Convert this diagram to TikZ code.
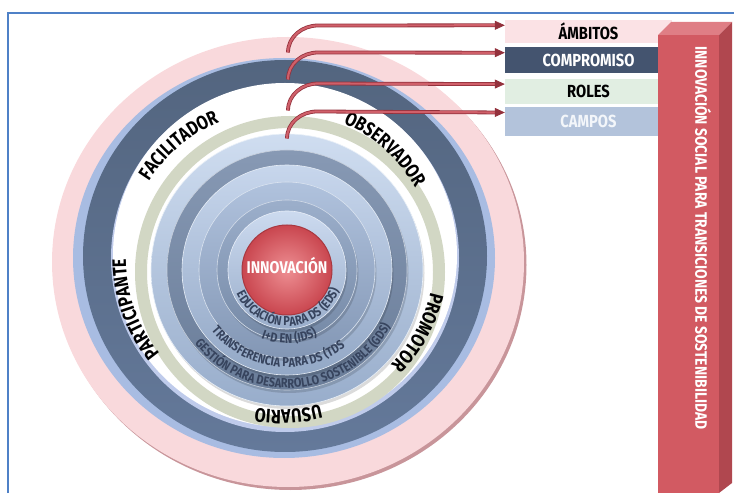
\documentclass[tikz,border=0pt]{standalone}
\usepackage{fontspec}
\setmainfont{Fira Sans}
\newfontfamily\cond{Fira Sans}[FakeStretch=0.84]
\newfontfamily\condw{Fira Sans}[FakeStretch=0.82]
\usetikzlibrary{arrows.meta,positioning,decorations.text}
\definecolor{pinkring}{HTML}{F9D9DC}
\definecolor{pinkrim}{HTML}{C8959A}
\definecolor{lightband}{HTML}{A8BCE2}
\definecolor{slate}{HTML}{64799A}
\definecolor{slatedark}{HTML}{53657F}
\definecolor{lavender}{HTML}{BFCBEB}
\definecolor{beige}{HTML}{D2D7C4}
\definecolor{ringA}{HTML}{CFDDF0}\definecolor{ringAd}{HTML}{98ADCB}
\definecolor{ringB}{HTML}{8799B4}\definecolor{ringBd}{HTML}{6A7D99}
\definecolor{ringC}{HTML}{C7D6EC}\definecolor{ringCd}{HTML}{93A8C6}
\definecolor{ringD}{HTML}{B0C2DD}\definecolor{ringDd}{HTML}{8397B5}
\definecolor{ringE}{HTML}{9CAFCB}\definecolor{ringEd}{HTML}{7589A6}
\definecolor{ringF}{HTML}{CCDAEF}\definecolor{ringFd}{HTML}{9AAECB}
\definecolor{innov}{HTML}{C9464F}
\definecolor{innovlight}{HTML}{EE8F93}
\definecolor{innovdark}{HTML}{A83840}
\definecolor{arrline}{HTML}{93313C}
\definecolor{arrfill}{HTML}{D0606A}
\definecolor{bar}{HTML}{D25A62}
\definecolor{bartop}{HTML}{DF7E85}
\definecolor{barside}{HTML}{B0474F}
\definecolor{frame}{HTML}{4F81C7}
\definecolor{txtblue}{HTML}{37445E}
\definecolor{ambfill}{HTML}{FBE2E5}
\definecolor{compfill}{HTML}{44546F}
\definecolor{rolfill}{HTML}{E1EEE2}
\definecolor{campfill}{HTML}{B3C3DB}
\definecolor{camptext}{HTML}{F3F6FA}
\newcommand\rlab{\condw\bfseries\fontsize{19.5}{19.5}\selectfont}
\newcommand\ilab{\cond\bfseries\fontsize{13}{13}\selectfont\color{txtblue}}
\tikzset{
  arr/.style={draw=arrline, line width=0.8pt, double=arrfill, double distance=2.2pt, -{Triangle[length=10pt, width=9pt]}},
  tag/.style={minimum width=167pt, inner sep=0pt, font=\cond\bfseries\fontsize{17.5}{17.5}\selectfont},
  outerlbl/.style={decorate, decoration={text along path, text align=center, text={|\rlab|#1}}},
  innerlbl/.style={decorate, decoration={text along path, text align=center, text={|\ilab|#1}}},
}
\begin{document}
\begin{tikzpicture}[x=1pt, y=1pt]
\useasboundingbox (0,0) rectangle (734,493);
\draw[frame, line width=1.5pt] (8,0) |- (734,480);
\coordinate (o) at (287,223);
\fill[pinkrim] (290.5,228) ellipse[x radius=236, y radius=225];
\fill[pinkring] (288,231) ellipse[x radius=236, y radius=225];
\fill[lightband] (284,235) ellipse[x radius=211, y radius=200];
\shade[top color=slatedark, bottom color=slate] (285,237) ellipse[x radius=202, y radius=196];
\fill[lavender] (285,235) circle[radius=174];
\fill[white] (285,238) circle[radius=172];
\fill[beige, even odd rule] (290,221) ellipse[x radius=155, y radius=156] (290,221) ellipse[x radius=143, y radius=144];
\path[outerlbl=FACILITADOR] (280,233) ++(171:154 and 150) arc[start angle=171, end angle=91, x radius=154, y radius=150];
\path[outerlbl=OBSERVADOR] (280,233) ++(87:154 and 150) arc[start angle=87, end angle=7, x radius=154, y radius=150];
\path[outerlbl=PROMOTOR] (280,233) ++(12:154 and 150) arc[start angle=12, end angle=-68, x radius=154, y radius=150];
\path[outerlbl=USUARIO] (280,233) ++(-47:154 and 150) arc[start angle=-47, end angle=-127, x radius=154, y radius=150];
\path[outerlbl=PARTICIPANTE] (280,233) ++(239:154 and 150) arc[start angle=239, end angle=159, x radius=154, y radius=150];
\foreach \r/\ca/\cb in {136/ringA/ringAd, 120/ringB/ringBd, 105/ringC/ringCd, 88/ringD/ringDd, 70/ringE/ringEd, 59/ringF/ringFd}{
  \fill[black, opacity=0.14] ([shift={(1.5,-3)}]o) circle[radius=\r];
  \shade[draw=white!55!\ca, line width=0.6pt, top color=\ca, bottom color=\cb] (o) circle[radius=\r];
}
\shade[draw=innovdark, line width=1pt, inner color=innovlight, outer color=innov] (o) circle[radius=45];
\node[font=\cond\bfseries\fontsize{17}{17}\selectfont, text=white] (innovacion) at (287,227) {INNOVACIÓN};
\path[innerlbl={EDUCACIÓN PARA DS (EDS)}] ([shift={(182:56)}]o) arc[start angle=182, end angle=362, radius=56];
\path[innerlbl={I+D EN (IDS)}] ([shift={(182:73)}]o) arc[start angle=182, end angle=362, radius=73];
\path[innerlbl={TRANSFERENCIA PARA DS (TDS}] ([shift={(173:97)}]o) arc[start angle=173, end angle=353, radius=97];
\path[innerlbl={GESTIÓN PARA DESARROLLO SOSTENIBLE (GDS)}] ([shift={(185:118)}]o) arc[start angle=185, end angle=365, radius=118];
\node[tag, fill=ambfill, minimum height=23pt] (ambitos) at (588.5,461.5) {ÁMBITOS};
\node[tag, fill=compfill, text=white, minimum height=26pt, below=4pt of ambitos] (compromiso) {COMPROMISO};
\node[tag, fill=rolfill, minimum height=25pt, below=5pt of compromiso] (roles) {ROLES};
\node[tag, fill=campfill, text=camptext, minimum height=29pt, below=3pt of roles] (campos) {CAMPOS};
\coordinate (s1) at (288,440.5);
\coordinate (s2) at (288,413.5);
\coordinate (s3) at (288,382.5);
\coordinate (s4) at (287,354.5);
\draw[arr] (s1) to[out=90, in=180] ++(30,27) -- ([yshift=-5.5pt]ambitos.north west);
\draw[arr] (s2) to[out=90, in=180] ++(30,27) -- ([yshift=-5.5pt]compromiso.north west);
\draw[arr] (s3) to[out=90, in=180] ++(30,27) -- ([yshift=-5.5pt]roles.north west);
\draw[arr] (s4) to[out=90, in=180] ++(30,27) -- ([yshift=-5.5pt]campos.north west);
\fill[bar] (658,0) rectangle (719,458);
\fill[bartop] (658,458) -- (719,458) -- (732,471) -- (671,471) -- cycle;
\fill[barside] (719,0) -- (719,458) -- (732,471) -- (732,10) -- cycle;
\node[rotate=-90, text=white, font=\cond\bfseries\fontsize{16.5}{16.5}\selectfont] (isbar) at (703,255) {INNOVACIÓN SOCIAL PARA TRANSICIONES DE SOSTENIBILIDAD};
\end{tikzpicture}
\end{document}
